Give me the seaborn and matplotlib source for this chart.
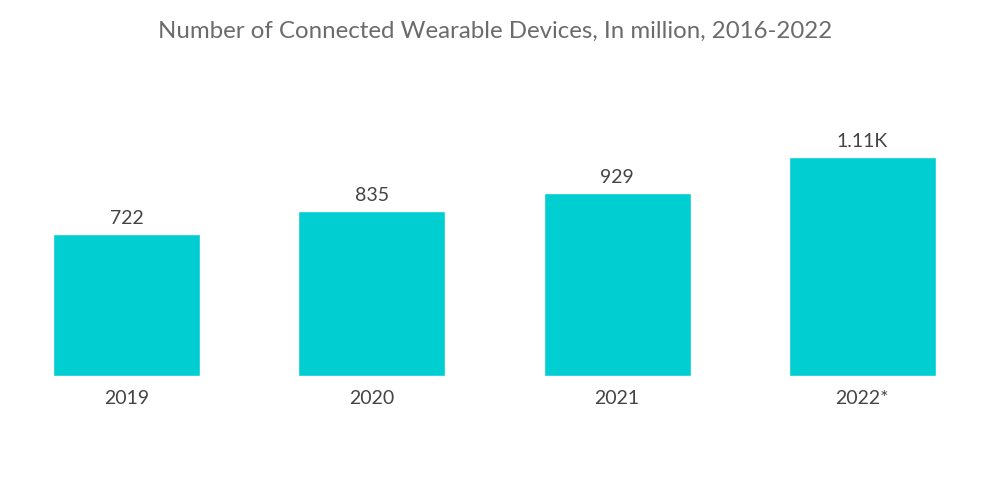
import seaborn as sns
import matplotlib.pyplot as plt
import pandas as pd

years = ["2019", "2020", "2021", "2022*"]
devices = [722, 835, 929, 1110]
value_labels = ["722", "835", "929", "1.11K"]

df = pd.DataFrame({"Year": years, "Devices": devices})

sns.set_style("white")
plt.rcParams['font.family'] = ['Lato', 'DejaVu Sans']

fig = plt.figure(figsize=(10, 5.04), dpi=100)
ax = fig.add_axes([0.004, 0.254, 0.981, 0.548])

sns.barplot(data=df, x="Year", y="Devices", color="#00CED1", width=0.6,
            saturation=1, ax=ax)

ax.bar_label(ax.containers[0], labels=value_labels, padding=5,
             fontsize=14, color="#444444")

ax.set_ylim(0, 1400)
ax.set_xlim(-0.5, 3.5)
ax.set_xlabel("")
ax.set_ylabel("")
ax.set_yticks([])
ax.tick_params(axis="x", length=0, pad=10, labelsize=14, labelcolor="#444444")
sns.despine(ax=ax, left=True, bottom=True)

fig.text(0.495, 0.938, "Number of Connected Wearable Devices, In million, 2016-2022",
         ha="center", va="center", fontsize=17.3, color="#6b6b6b")

plt.savefig("out.png", dpi=100)
